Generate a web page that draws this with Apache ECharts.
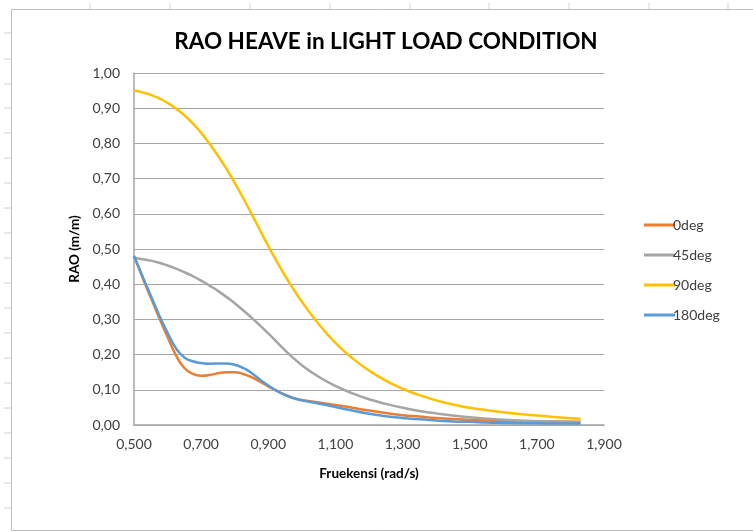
<!DOCTYPE html>
<html>
<head>
<meta charset="utf-8">
<script src="https://cdn.jsdelivr.net/npm/echarts@6/dist/echarts.min.js"></script>
<style>
html,body{margin:0;padding:0;background:#fff;}
#chart{width:753px;height:532px;}
</style>
</head>
<body>
<div id="chart"></div>
<script>
var frequencies = [0.500,0.525,0.550,0.575,0.600,0.625,0.650,0.675,0.700,0.725,0.750,0.775,0.800,0.825,0.850,0.875,0.900,0.925,0.950,0.975,1.000,
                   1.05,1.10,1.15,1.20,1.25,1.30,1.35,1.40,1.45,1.50,1.55,1.60,1.65,1.70,1.75,1.83];
var deg0   = [0.480,0.420,0.362,0.305,0.250,0.198,0.162,0.145,0.140,0.142,0.147,0.150,0.150,0.145,0.136,0.123,0.110,0.097,0.086,0.077,0.071,
              0.064,0.057,0.049,0.041,0.034,0.028,0.024,0.020,0.017,0.015,0.013,0.012,0.011,0.010,0.010,0.009];
var deg45  = [0.475,0.471,0.467,0.461,0.453,0.444,0.434,0.423,0.410,0.396,0.381,0.364,0.346,0.326,0.305,0.283,0.260,0.236,0.212,0.190,0.170,
              0.137,0.111,0.090,0.073,0.060,0.049,0.040,0.033,0.027,0.022,0.018,0.015,0.013,0.011,0.010,0.008];
var deg90  = [0.950,0.945,0.938,0.928,0.915,0.899,0.880,0.857,0.830,0.799,0.765,0.728,0.688,0.645,0.600,0.554,0.508,0.465,0.424,0.386,0.350,
              0.287,0.233,0.190,0.155,0.126,0.103,0.085,0.070,0.058,0.049,0.042,0.036,0.031,0.027,0.023,0.018];
var deg180 = [0.480,0.423,0.367,0.312,0.262,0.218,0.192,0.181,0.176,0.174,0.175,0.175,0.171,0.162,0.148,0.129,0.112,0.097,0.085,0.076,0.070,
              0.061,0.051,0.041,0.032,0.025,0.020,0.016,0.013,0.010,0.009,0.007,0.006,0.005,0.005,0.004,0.004];
var seriesNames = ['0deg','45deg','90deg','180deg'];
var colors = ['#ED7D31','#A5A5A5','#FFC000','#5B9BD5'];

function pairs(ys){ return frequencies.map(function(x,i){ return [x, ys[i]]; }); }
var allData = [deg0, deg45, deg90, deg180];

var FONT = 'Lato';
var chart = echarts.init(document.getElementById('chart'), null, {renderer:'canvas'});

var sheetMarks = [];
[90,170,250,330,410,489,569,649,728].forEach(function(x){
  sheetMarks.push({type:'line', shape:{x1:x,y1:3,x2:x,y2:9}, style:{stroke:'#d0d0d0',lineWidth:1}, silent:true});
});
[33,59,84,108,133,158,183,208,233,258,283,308,333,358,383,408,433,458,483,508].forEach(function(y){
  sheetMarks.push({type:'line', shape:{x1:4,y1:y,x2:11,y2:y}, style:{stroke:'#d0d0d0',lineWidth:1}, silent:true});
});

chart.setOption({
  animation:false,
  backgroundColor:'#ffffff',
  color: colors,
  title:{
    text:'RAO HEAVE in LIGHT LOAD CONDITION',
    left:381, top:25, textAlign:'center',
    textStyle:{fontFamily:FONT, fontWeight:'bold', fontSize:22.5, color:'#000'}
  },
  graphic: [{
    type:'polyline',
    shape:{points:[[760,9.5],[11.5,9.5],[11.5,530.5],[760,530.5]]},
    style:{stroke:'#bfbfbf', lineWidth:1, fill:null}, silent:true
  }].concat(sheetMarks),
  legend:{
    orient:'vertical', left:639, top:213,
    itemGap:16, itemWidth:31, itemHeight:3, icon:'rect',
    textStyle:{fontFamily:FONT, fontSize:14, color:'#404040', padding:[0,0,0,-7]},
    data: seriesNames
  },
  grid:{left:134, right:149, top:73, bottom:107, containLabel:false},
  xAxis:{
    type:'value', min:0.5, max:1.9, interval:0.2,
    name:'Fruekensi (rad/s)', nameLocation:'middle', nameGap:42,
    nameTextStyle:{fontFamily:FONT, fontWeight:'bold', fontSize:13.5, color:'#000'},
    axisLine:{show:true, lineStyle:{color:'#a6a6a6', width:1.5}},
    axisTick:{show:false},
    splitLine:{show:false},
    axisLabel:{fontFamily:FONT, fontSize:14, color:'#404040', margin:12,
      formatter:function(v){ return v.toFixed(3).replace('.', ','); }}
  },
  yAxis:{
    type:'value', min:0, max:1, interval:0.1,
    name:'RAO (m/m)', nameLocation:'middle', nameGap:49, nameRotate:90,
    nameTextStyle:{fontFamily:FONT, fontWeight:'bold', fontSize:13.5, color:'#000'},
    axisLine:{show:true, lineStyle:{color:'#a6a6a6', width:1.5}},
    axisTick:{show:false},
    splitLine:{show:true, lineStyle:{color:'#a6a6a6', width:1.2}},
    axisLabel:{fontFamily:FONT, fontSize:14, color:'#404040', margin:14,
      formatter:function(v){ return v.toFixed(2).replace('.', ','); }}
  },
  series: seriesNames.map(function(n,i){
    return {
      name:n, type:'line', data:pairs(allData[i]), smooth:0.5,
      showSymbol:false, symbol:'none',
      lineStyle:{color:colors[i], width:2.5},
      itemStyle:{color:colors[i]},
      z: i===3 ? 5 : 3
    };
  })
});
</script>
</body>
</html>
